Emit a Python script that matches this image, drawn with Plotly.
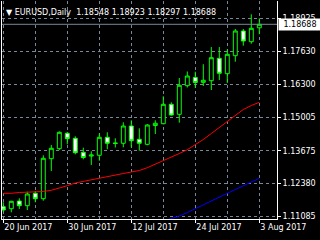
import plotly.graph_objects as go
import pandas as pd

symbol = "EURUSD,Daily"
dates = ["2017-06-20", "2017-06-21", "2017-06-22", "2017-06-23", "2017-06-26",
         "2017-06-27", "2017-06-28", "2017-06-29", "2017-06-30", "2017-07-03",
         "2017-07-04", "2017-07-05", "2017-07-06", "2017-07-07", "2017-07-10",
         "2017-07-11", "2017-07-12", "2017-07-13", "2017-07-14", "2017-07-17",
         "2017-07-18", "2017-07-19", "2017-07-20", "2017-07-21", "2017-07-24",
         "2017-07-25", "2017-07-26", "2017-07-27", "2017-07-28", "2017-07-31",
         "2017-08-01", "2017-08-02", "2017-08-03"]
opens = [1.11465, 1.11386, 1.11691, 1.11505, 1.11996, 1.11782, 1.13366, 1.13762,
         1.14372, 1.14174, 1.13619, 1.13470, 1.13501, 1.14213, 1.13990, 1.13976,
         1.14661, 1.14134, 1.13936, 1.14681, 1.14752, 1.15520, 1.15124, 1.16257,
         1.16581, 1.16391, 1.16455, 1.17342, 1.16732, 1.17445, 1.18423, 1.17999,
         1.18548]
highs = [1.11639, 1.11700, 1.11798, 1.12059, 1.12087, 1.13501, 1.13908, 1.14451,
         1.14423, 1.14253, 1.13802, 1.13659, 1.14372, 1.14411, 1.14174, 1.14807,
         1.14887, 1.14570, 1.14740, 1.14887, 1.15837, 1.15599, 1.16562, 1.16819,
         1.16811, 1.17108, 1.17789, 1.17789, 1.17698, 1.18502, 1.18502, 1.19084,
         1.18923]
lows = [1.11267, 1.11243, 1.11374, 1.11334, 1.11639, 1.11703, 1.12879, 1.13710,
        1.13936, 1.13540, 1.13342, 1.13116, 1.13287, 1.13738, 1.13809, 1.13817,
        1.13817, 1.13683, 1.13897, 1.14344, 1.14728, 1.15069, 1.14792, 1.16185,
        1.16178, 1.16245, 1.16086, 1.16482, 1.16364, 1.17207, 1.17841, 1.17920,
        1.18297]
closes = [1.11334, 1.11679, 1.11505, 1.11968, 1.11782, 1.13382, 1.13778, 1.14411,
          1.14158, 1.13604, 1.13413, 1.13510, 1.14213, 1.13976, 1.13970, 1.14661,
          1.14079, 1.13976, 1.14700, 1.14768, 1.15520, 1.15096, 1.16273, 1.16641,
          1.16383, 1.16471, 1.17366, 1.16748, 1.17500, 1.18423, 1.18027, 1.18530,
          1.18688]
ma_red = [1.11996, 1.11996, 1.12027, 1.12035, 1.12035, 1.12067, 1.12115, 1.12194,
          1.12297, 1.12404, 1.12471, 1.12534, 1.12602, 1.12653, 1.12709, 1.12780,
          1.12839, 1.12899, 1.13010, 1.13144, 1.13275, 1.13425, 1.13572, 1.13722,
          1.13908, 1.14126, 1.14364, 1.14601, 1.14839, 1.15096, 1.15314, 1.15473,
          1.15599]
ma_blue = [None, None, None, None, None, None, None, None, None, None,
           None, None, None, None, None, None, None, None, None, 1.10800,
           1.10899, 1.11006, 1.11097, 1.11235, 1.11394, 1.11552, 1.11691, 1.11849,
           1.11996, 1.12146, 1.12285, 1.12443, 1.12590]
y_ticks = [1.11085, 1.12380, 1.13675, 1.15005, 1.16300, 1.17630, 1.18925]

GRID = "#778899"
GREEN = "#00FF00"

xi = list(range(len(dates)))
labels = [pd.Timestamp(d).strftime("%-d %b %Y") for d in dates]

fig = go.Figure()
fig.add_trace(go.Candlestick(
    x=xi, open=opens, high=highs, low=lows, close=closes,
    increasing=dict(line=dict(color=GREEN, width=1), fillcolor="#000000"),
    decreasing=dict(line=dict(color=GREEN, width=1), fillcolor="#FFFFFF"),
    whiskerwidth=0, hoverinfo="skip"))
fig.add_trace(go.Scatter(x=xi, y=ma_red, mode="lines",
                         line=dict(color="#FF0000", width=1), hoverinfo="skip"))
fig.add_trace(go.Scatter(x=xi, y=ma_blue, mode="lines",
                         line=dict(color="#0000FF", width=1), hoverinfo="skip"))

fig.add_shape(type="line", xref="paper", x0=0, x1=1, yref="y",
              y0=closes[-1], y1=closes[-1], line=dict(color=GRID, width=1))

fig.add_annotation(xref="paper", yref="paper", x=0, y=1, xanchor="left", yanchor="top",
                   xshift=2, yshift=-5, showarrow=False,
                   text=f"\u25BC {symbol}  {opens[-1]:.5f} {highs[-1]:.5f} {lows[-1]:.5f} {closes[-1]:.5f}",
                   font=dict(family="DejaVu Sans", size=8, color="white"))
fig.add_annotation(xref="paper", yref="y", x=1, y=closes[-1], xanchor="left", yanchor="middle",
                   xshift=1, showarrow=False, text=f"{closes[-1]:.5f}",
                   bgcolor="white", width=40, height=9, borderpad=1,
                   font=dict(family="DejaVu Sans", size=8, color="black"))

fig.update_layout(
    width=320, height=240, margin=dict(l=2, r=43, t=1, b=21),
    paper_bgcolor="black", plot_bgcolor="black", showlegend=False,
    font=dict(family="DejaVu Sans", size=8, color="white"),
    xaxis=dict(range=[-0.1625, 34.2125], rangeslider=dict(visible=False),
               tickmode="array", tickvals=xi[::8], ticktext=labels[::8],
               ticks="outside", ticklen=3, tickcolor="white",
               ticklabelposition="outside right",
               showline=True, linecolor="white", linewidth=1, zeroline=False,
               showgrid=True, gridcolor=GRID, griddash="3px,3px", gridwidth=1,
               minor=dict(tickmode="array", tickvals=xi[::4], showgrid=True,
                          gridcolor=GRID, griddash="3px,3px", gridwidth=1, ticks="")),
    yaxis=dict(side="right", range=[1.10978, 1.19611],
               tickmode="array", tickvals=y_ticks, ticktext=[f"{v:.5f}" for v in y_ticks],
               ticks="outside", ticklen=3, tickcolor="white",
               showline=True, mirror=True, linecolor="white", linewidth=1, zeroline=False,
               showgrid=True, gridcolor=GRID, griddash="3px,3px", gridwidth=1),
)

fig.write_html("out.html")
